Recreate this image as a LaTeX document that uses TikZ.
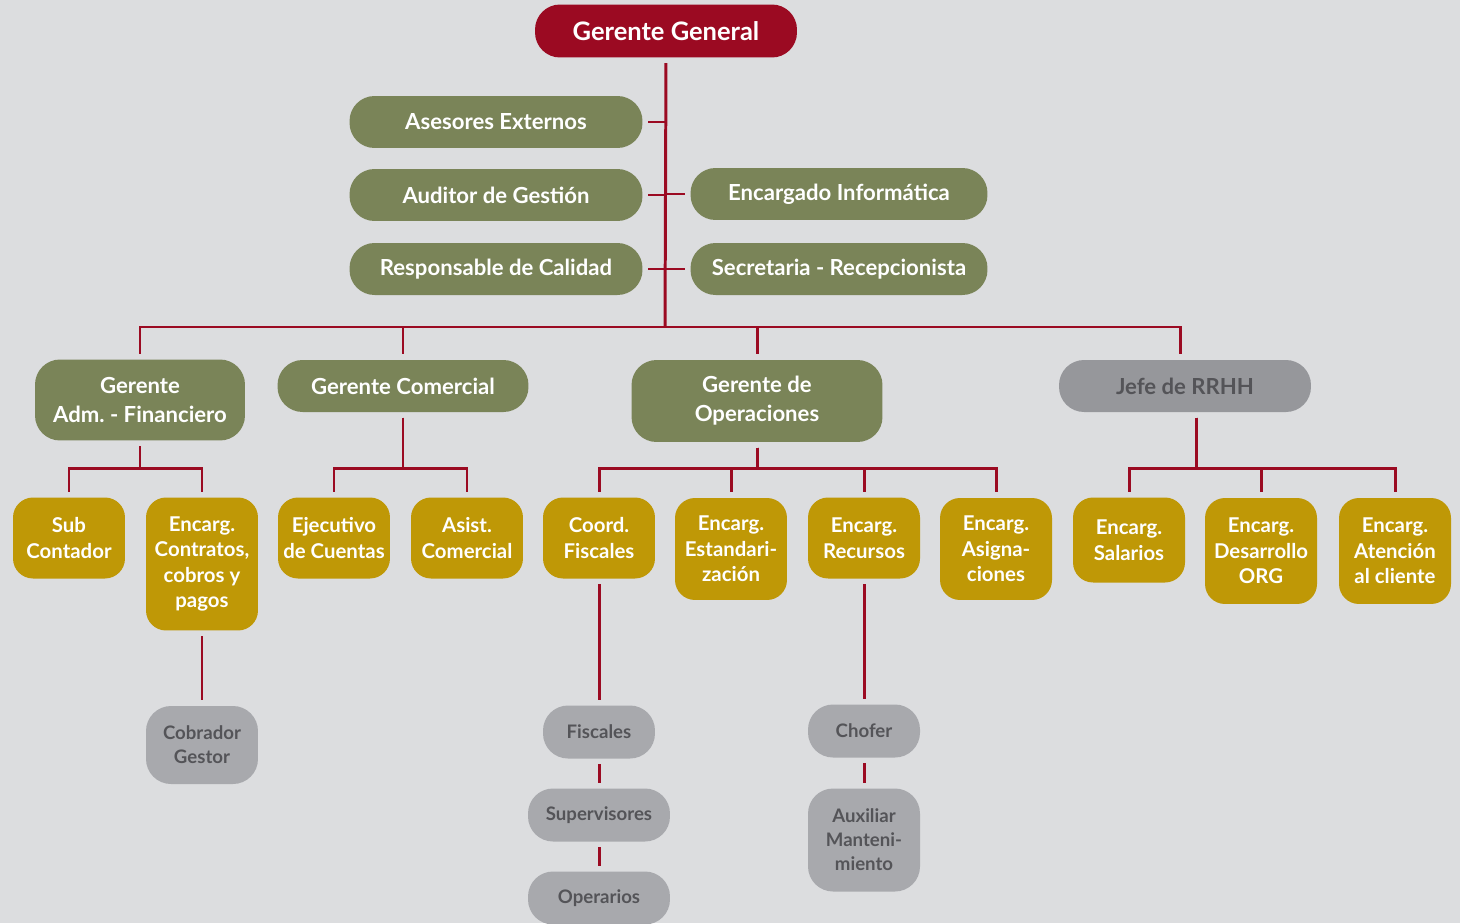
\documentclass[tikz,border=0pt]{standalone}
\usepackage{fontspec}
\setmainfont{Lato}
\frenchspacing

\definecolor{bg}{HTML}{DCDDDF}
\definecolor{ggred}{HTML}{9B0A22}
\definecolor{olive}{HTML}{7A8458}
\definecolor{gold}{HTML}{BF9806}
\definecolor{lgray}{HTML}{A8A9AD}
\definecolor{mgray}{HTML}{96979B}
\definecolor{dgray}{HTML}{545458}

\tikzset{
  link/.style={draw=ggred, line width=1.7pt, shorten <=3pt, shorten >=3pt},
  gerbox/.style={fill=ggred, text=white, rounded corners=0.5cm, minimum width=5.24cm, minimum height=1.06cm, font=\fontsize{14.5}{18}\selectfont\bfseries},
  areabox/.style={fill=olive, text=white, rounded corners=0.5cm, minimum height=1.04cm, align=center, font=\fontsize{12.6}{16.5}\selectfont\bfseries},
  encbox/.style={fill=gold, text=white, rounded corners=0.4cm, minimum width=2.24cm, minimum height=1.62cm, align=center, inner sep=1pt, font=\fontsize{11.6}{14.5}\selectfont\bfseries},
  staffbox/.style={fill=lgray, text=dgray, rounded corners=0.5cm, minimum width=2.24cm, minimum height=1.06cm, align=center, inner sep=1pt, font=\fontsize{10.6}{13.6}\selectfont\bfseries},
}

\begin{document}
\begin{tikzpicture}[x=0.02cm, y=-0.02cm]
  \useasboundingbox (0,0) rectangle (1460,923);
  \fill[bg] (0,0) rectangle (1460,923);

  % Top
  \node[gerbox] (gg) at (666,31) {Gerente General};

  % Staff around the trunk
  \node[areabox, minimum width=5.86cm] (ase) at (496,122) {Asesores Externos};
  \node[areabox, minimum width=5.86cm] (aud) at (496,195) {Auditor de Gestión};
  \node[areabox, minimum width=5.86cm] (cal) at (496,269) {Responsable de Calidad};
  \node[areabox, minimum width=5.94cm] (inf) at (839,194) {Encargado Informática};
  \node[areabox, minimum width=5.94cm] (sec) at (839,269) {Secretaria - Recepcionista};

  % Managers
  \node[areabox, minimum width=4.2cm, minimum height=1.62cm] (adm) at (140,400) {Gerente\\Adm. - Financiero};
  \node[areabox, minimum width=5.02cm] (com) at (403,386) {Gerente Comercial};
  \node[areabox, minimum width=5.02cm, minimum height=1.64cm] (ops) at (757,401) {Gerente de\\Operaciones};
  \node[areabox, fill=mgray, text=dgray, minimum width=5.04cm] (rrhh) at (1185,386) {Jefe de RRHH};

  % Encargados
  \node[encbox] (sub) at (69,538) {Sub\\Contador};
  \node[encbox, minimum height=2.66cm] (ctr) at (202,564) {Encarg.\\Contratos,\\cobros y\\pagos};
  \node[encbox] (eje) at (334,538) {Ejecutivo\\de Cuentas};
  \node[encbox] (asi) at (467,538) {Asist.\\Comercial};
  \node[encbox] (coo) at (599,538) {Coord.\\Fiscales};
  \node[encbox, minimum height=2.04cm] (est) at (731,549) {Encarg.\\Estandari-\\zación};
  \node[encbox] (rec) at (864,538) {Encarg.\\Recursos};
  \node[encbox, minimum height=2.04cm] (asg) at (996,549) {Encarg.\\Asigna-\\ciones};
  \node[encbox, minimum height=1.7cm] (sal) at (1129,540) {Encarg.\\Salarios};
  \node[encbox, minimum height=2.12cm] (des) at (1261,551) {Encarg.\\Desarrollo\\ORG};
  \node[encbox, minimum height=2.12cm] (ate) at (1395,551) {Encarg.\\Atención\\al cliente};

  % Lower staff
  \node[staffbox, minimum height=1.56cm] (cob) at (202,745) {Cobrador\\Gestor};
  \node[staffbox] (fis) at (599,732) {Fiscales};
  \node[staffbox, minimum width=2.84cm] (sup) at (599,815) {Supervisores};
  \node[staffbox, minimum width=2.84cm] (ope) at (599,898) {Operarios};
  \node[staffbox] (cho) at (864,731) {Chofer};
  \node[staffbox, minimum height=2.06cm] (aux) at (864,840) {Auxiliar\\Manteni-\\miento};

  % Connectors
  \coordinate (trunk) at (665,327);
  \coordinate (bus2) at (0,468);
  \draw[link, shorten >=0pt] (gg.south) -- (trunk);
  \foreach \n in {ase,aud,cal}
    \draw[link, shorten >=0pt] (\n.east) -- (\n.east -| trunk);
  \foreach \n in {inf,sec}
    \draw[link, shorten <=0pt] (\n.west -| trunk) -- (\n.west);
  \foreach \n in {adm,com,ops}
    \draw[link, shorten <=0pt] (trunk) -| (\n.north);
  \draw[link, shorten <=0pt] (trunk) -| ([xshift=-0.1cm]rrhh.north);

  \foreach \c in {sub,ctr}
    \draw[link] (adm.south) -- (adm.south |- bus2) -| (\c.north);
  \foreach \c in {eje,asi}
    \draw[link] (com.south) -- (com.south |- bus2) -| (\c.north);
  \foreach \c in {coo,est,rec,asg}
    \draw[link] (ops.south) -- (ops.south |- bus2) -| (\c.north);
  \foreach \c in {sal,des,ate}
    \draw[link] ([xshift=0.22cm]rrhh.south) -- ([xshift=0.22cm]rrhh.south |- bus2) -| (\c.north);

  \draw[link] (ctr) -- (cob);
  \draw[link] (coo) -- (fis);
  \draw[link] (fis) -- (sup);
  \draw[link] (sup) -- (ope);
  \draw[link] (rec) -- (cho);
  \draw[link] (cho) -- (aux);
\end{tikzpicture}
\end{document}
